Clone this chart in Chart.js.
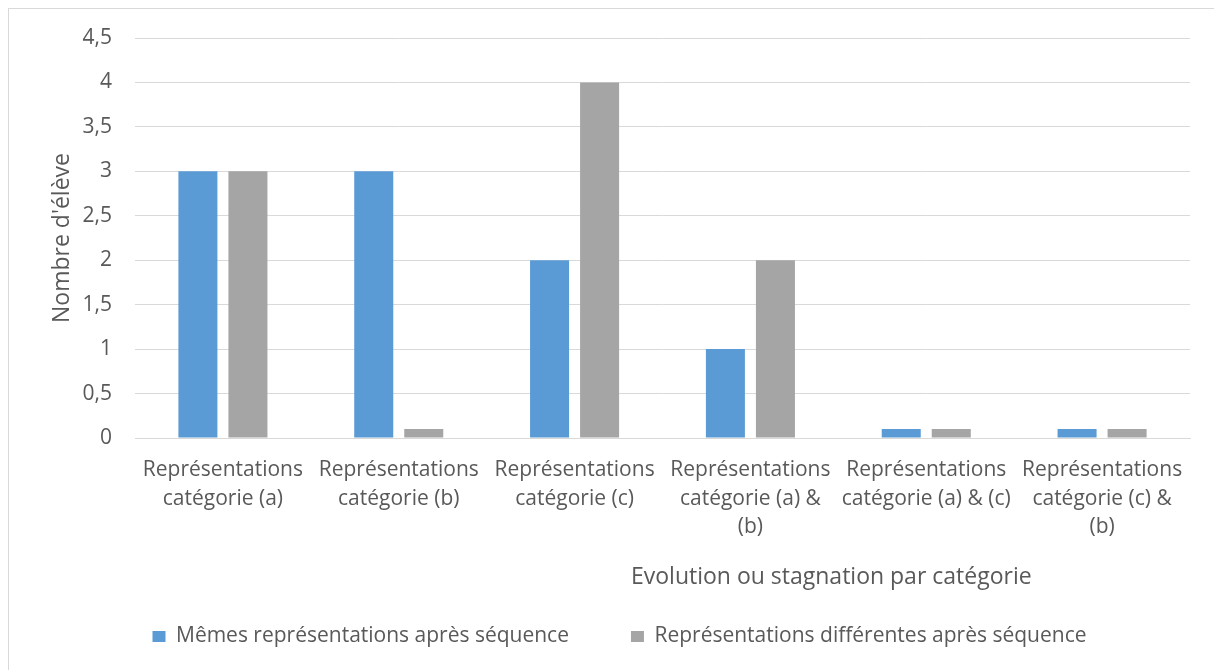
<!DOCTYPE html>
<html lang="fr">
<head>
<meta charset="utf-8">
<script src="https://cdn.jsdelivr.net/npm/chart.js@4"></script>
<style>
  html, body { margin: 0; padding: 0; background: #fff; overflow: hidden; }
  #frame {
    position: absolute; left: 8px; top: 8px;
    width: 1220px; height: 680px;
    border-left: 1px solid #d9d9d9; border-top: 1px solid #d9d9d9;
  }
  #wrap { position: absolute; left: 0; top: 0; width: 1205px; height: 661px; }
</style>
</head>
<body>
<div id="frame"><div id="wrap"><canvas id="chart"></canvas></div></div>
<script>
const categories = [
    ['Représentations', 'catégorie (a)'],
    ['Représentations', 'catégorie (b)'],
    ['Représentations', 'catégorie (c)'],
    ['Représentations', 'catégorie (a) &', '(b)'],
    ['Représentations', 'catégorie (a) & (c)'],
    ['Représentations', 'catégorie (c) &', '(b)'],
];
const memes = [3, 3, 2, 1, 0.1, 0.1];
const differentes = [3, 0.1, 4, 2, 0.1, 0.1];
const yTicks = [0, 0.5, 1, 1.5, 2, 2.5, 3, 3.5, 4, 4.5];

const FONT = '"Open Sans", sans-serif';
const TEXT = '#595959';
const GRID = '#d9d9d9';

// x-axis title sits right of centre in the original, so draw it ourselves
const xTitle = {
    id: 'xTitle',
    afterDraw(chart) {
        const { ctx, chartArea: a } = chart;
        ctx.save();
        ctx.font = '23px ' + FONT;
        ctx.fillStyle = TEXT;
        ctx.textAlign = 'center';
        ctx.textBaseline = 'middle';
        ctx.fillText('Evolution ou stagnation par catégorie', a.left + (a.right - a.left) * 0.66, a.bottom + 139);
        ctx.restore();
    },
};

new Chart(document.getElementById('chart'), {
    type: 'bar',
    data: {
        labels: categories,
        datasets: [
            { label: 'Mêmes représentations après séquence', data: memes, backgroundColor: '#5b9bd5' },
            { label: 'Représentations différentes après séquence', data: differentes, backgroundColor: '#a5a5a5' },
        ],
    },
    options: {
        responsive: true, maintainAspectRatio: false, animation: false,
        categoryPercentage: 0.569, barPercentage: 0.78,
        layout: { padding: { left: 40, right: 24, top: 29, bottom: 13 } },
        plugins: {
            tooltip: { enabled: false },
            legend: {
                position: 'bottom',
                labels: { boxWidth: 13, boxHeight: 11, padding: 62, color: TEXT, font: { family: FONT, size: 21 } },
            },
        },
        scales: {
            x: {
                grid: { display: false, drawTicks: false },
                border: { color: GRID, width: 1 },
                ticks: { color: TEXT, padding: 18, maxRotation: 0, autoSkip: false, font: { family: FONT, size: 21, lineHeight: 1.36 } },
                afterFit: (s) => { s.height = 126; },
            },
            y: {
                min: 0, max: 4.5,
                afterBuildTicks: (s) => { s.ticks = yTicks.map((v) => ({ value: v })); },
                grid: { color: GRID, drawTicks: false },
                border: { display: false },
                ticks: {
                    color: TEXT, padding: 23, font: { family: FONT, size: 21 },
                    callback: (v) => String(v).replace('.', ','),
                },
                title: { display: true, text: "Nombre d'élève", color: TEXT, font: { family: FONT, size: 23 }, padding: { top: 0, bottom: 0 } },
                afterFit: (s) => { s.width = 86; s.paddingTop = 0; s.paddingBottom = 0; },
            },
        },
    },
    plugins: [xTitle],
});
</script>
</body>
</html>
